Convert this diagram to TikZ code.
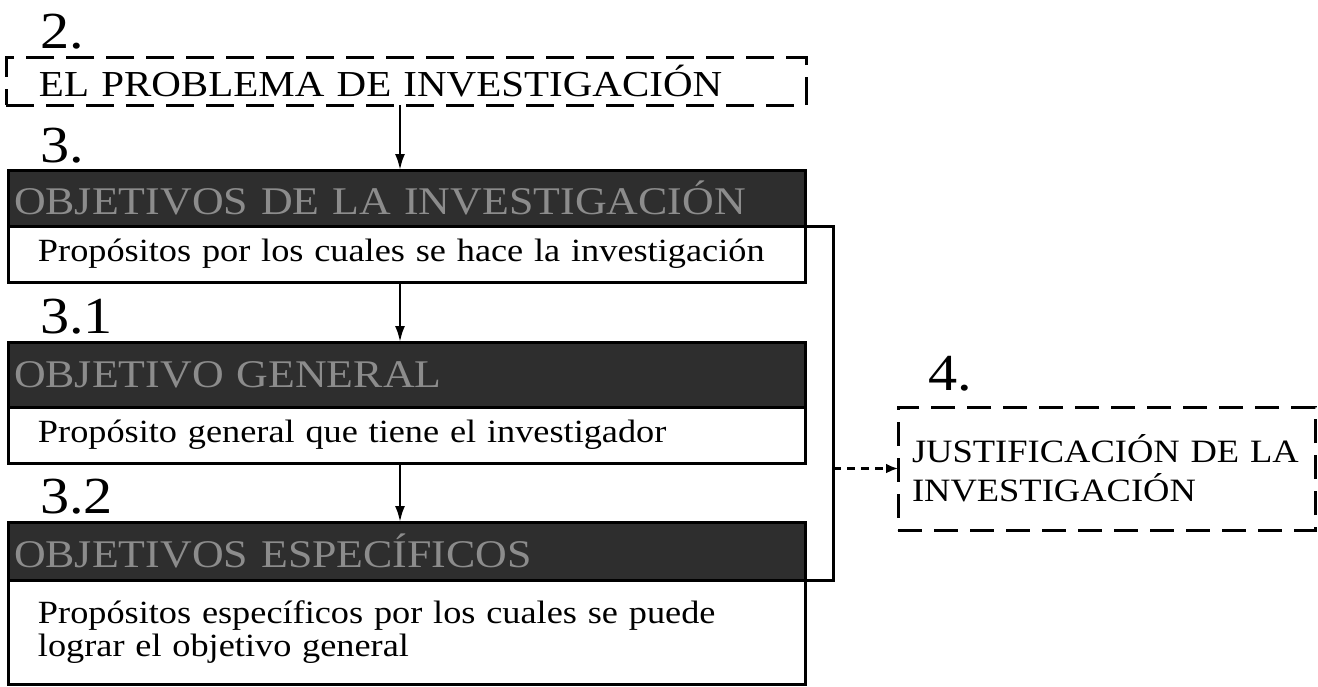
\documentclass[tikz,border=0pt]{standalone}
\usepackage{fontspec}
\setmainfont{Liberation Serif}[FakeStretch=1.12]
\usetikzlibrary{arrows.meta}
\begin{document}
\begin{tikzpicture}[x=0.5pt,y=-0.5pt,
  every node/.style={inner sep=0pt, outer sep=0pt},
  lbl/.style={anchor=base west, font=\fontsize{26}{28}\selectfont},
  dbox/.style={draw, line width=1.5pt, dash pattern=on 14pt off 6pt, anchor=north west, align=left,
     font=\fontsize{18.3}{20}\selectfont},
  bar/.style={draw, line width=1.5pt, fill=black!82, text=black!45, anchor=north west, align=left,
     inner xsep=3pt, font=\fontsize{19.6}{20}\selectfont},
  wbox/.style={draw, line width=1.5pt, fill=white, anchor=north west, align=left,
     inner xsep=15pt, font=\fontsize{16.2}{16.5}\selectfont},
  jbox/.style={draw, line width=1.5pt, dash pattern=on 12pt off 6pt, anchor=north west, align=left,
     inner xsep=7pt, font=\fontsize{16.3}{19.5}\selectfont},
  arr/.style={line width=1.2pt, -{Latex[length=8pt,width=5pt]}},
  conn/.style={line width=1.5pt},
  darr/.style={line width=1.5pt, dash pattern=on 4pt off 3pt, -{Latex[length=6pt,width=5pt]}}
]
\useasboundingbox (0,0) rectangle (1318,686);
\coordinate (ax) at (400,0);
\coordinate (bx) at (833,0);

\node[lbl] (L2) at (40,48) {2.};
\node[dbox, minimum width=400pt, minimum height=24pt, inner xsep=16.5pt, text width=367pt] (P) at (6,57) {EL PROBLEMA DE INVESTIGACIÓN};

\node[lbl] (L3) at (40,162) {3.};
\node[bar, minimum width=398.5pt, minimum height=28pt, text width=392.5pt] (B1) at (8,170) {OBJETIVOS DE LA INVESTIGACIÓN};
\node[wbox, minimum width=398.5pt, minimum height=28pt, text width=368.5pt] (W1) at (8,226) {Propósitos por los cuales se hace la investigación};

\node[lbl] (L31) at (40,333) {3.1};
\node[bar, minimum width=398.5pt, minimum height=32.5pt, text width=392.5pt] (B2) at (8,342) {OBJETIVO GENERAL};
\node[wbox, minimum width=398.5pt, minimum height=28pt, text width=368.5pt] (W2) at (8,407) {Propósito general que tiene el investigador};

\node[lbl] (L32) at (40,513) {3.2};
\node[bar, minimum width=398.5pt, minimum height=29pt, text width=392.5pt] (B3) at (8,522) {OBJETIVOS ESPECÍFICOS};
\node[wbox, minimum width=398.5pt, minimum height=52pt, text width=368.5pt] (W3) at (8,580) {Propósitos específicos por los cuales se puede\\ lograr el objetivo general\vphantom{y}\rule[-3pt]{0pt}{0pt}};

\node[lbl] (L4) at (928,390) {4.};
\node[jbox, minimum width=208.5pt, minimum height=61.5pt, text width=194.5pt] (J) at (898,407) {JUSTIFICACIÓN DE LA\\ INVESTIGACIÓN};

\draw[arr] (P.south -| ax) -- (B1.north -| ax);
\draw[arr] (W1.south -| ax) -- (B2.north -| ax);
\draw[arr] (W2.south -| ax) -- (B3.north -| ax);
\draw[conn] (W1.north east) -- (W1.north east -| bx) -- (W3.north east -| bx) -- (W3.north east);
\draw[darr] (bx |- J.west) -- (J.west);
\end{tikzpicture}
\end{document}
